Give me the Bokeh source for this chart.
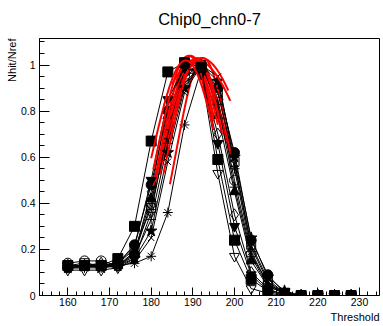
import numpy as np
from bokeh.plotting import figure
from bokeh.models import Range1d, SingleIntervalTicker, CustomJSTickFormatter, Title
from bokeh.embed import file_html
from bokeh.resources import INLINE

# Threshold scan points (DAC units)
threshold = [160, 164, 168, 172, 176, 180, 184, 188, 192, 196, 200, 204, 208, 212, 216, 220, 224, 228]

# Nhit/Nref per scan, one list per measurement
ratio_b = [0.12, 0.13, 0.13, 0.14, 0.22, 0.48, 0.80, 0.97, 1.00, 0.90, 0.62, 0.24, 0.09, 0.01, 0.00, 0.00, 0.00, 0.00]
ratio_c = [0.14, 0.15, 0.15, 0.13, 0.18, 0.40, 0.74, 0.95, 1.00, 0.85, 0.50, 0.18, 0.05, 0.01, 0.00, 0.00, 0.00, 0.00]
ratio_d = [0.12, 0.12, 0.12, 0.13, 0.14, 0.17, 0.36, 0.74, 0.98, 0.90, 0.55, 0.19, 0.05, 0.01, 0.00, 0.00, 0.00, 0.00]
ratio_e = [0.11, 0.11, 0.11, 0.12, 0.16, 0.36, 0.72, 0.96, 0.97, 0.53, 0.17, 0.03, 0.01, 0.00, 0.00, 0.00, 0.00, 0.00]
ratio_f = [0.13, 0.13, 0.13, 0.13, 0.19, 0.42, 0.78, 0.97, 0.99, 0.78, 0.45, 0.15, 0.04, 0.01, 0.00, 0.00, 0.00, 0.00]
ratio_g = [0.13, 0.14, 0.13, 0.14, 0.20, 0.38, 0.70, 0.92, 1.00, 0.88, 0.58, 0.22, 0.07, 0.01, 0.00, 0.00, 0.00, 0.00]
ratio_h = [0.12, 0.13, 0.12, 0.13, 0.16, 0.28, 0.62, 0.90, 1.00, 0.93, 0.60, 0.25, 0.08, 0.02, 0.00, 0.00, 0.00, 0.00]
ratio_i = [0.13, 0.13, 0.14, 0.13, 0.18, 0.45, 0.83, 0.99, 0.97, 0.70, 0.35, 0.10, 0.03, 0.00, 0.00, 0.00, 0.00, 0.00]
ratio_j = [0.12, 0.13, 0.13, 0.13, 0.17, 0.33, 0.66, 0.91, 1.00, 0.83, 0.47, 0.17, 0.04, 0.01, 0.00, 0.00, 0.00, 0.00]
ratio_k = [0.12, 0.12, 0.13, 0.12, 0.15, 0.25, 0.58, 0.88, 1.00, 0.95, 0.57, 0.21, 0.06, 0.01, 0.00, 0.00, 0.00, 0.00]
ratio_l = [0.13, 0.13, 0.13, 0.14, 0.21, 0.50, 0.85, 0.99, 0.96, 0.66, 0.30, 0.09, 0.02, 0.00, 0.00, 0.00, 0.00, 0.00]
ratio_a = [0.13, 0.13, 0.13, 0.16, 0.30, 0.67, 0.97, 1.01, 0.99, 0.59, 0.24, 0.07, 0.02, 0.01, 0.00, 0.00, 0.00, 0.00]

# Gaussian fit results for each scan: amplitude, mean, sigma, fit range
fit_amp   = [1.01, 1.02, 1.03, 1.02, 1.02, 1.03, 1.03, 1.04, 1.02, 1.02, 1.04, 1.02]
fit_mean  = [191.0, 190.5, 192.5, 189.5, 190.0, 191.0, 192.0, 189.5, 191.0, 191.0, 189.0, 188.3]
fit_sigma = [8.0, 7.5, 6.5, 6.5, 7.5, 7.5, 12.0, 7.2, 7.0, 13.0, 7.5, 8.0]
fit_lo    = [183, 182, 184.5, 182, 181, 183, 186, 180.5, 183, 185, 180.5, 180]
fit_hi    = [199, 197, 199, 194.5, 196, 198, 198.5, 195, 197, 199, 195, 195]

series = [ratio_b, ratio_c, ratio_d, ratio_e, ratio_f, ratio_g,
          ratio_h, ratio_i, ratio_j, ratio_k, ratio_l, ratio_a]

# marker, size, filled
styles = [
    ("circle", 10, True),
    ("circle", 10, False),
    ("asterisk", 10, False),
    ("inverted_triangle", 10, False),
    ("triangle", 10, True),
    ("square", 9, False),
    ("star", 12, True),
    ("diamond", 12, False),
    ("cross", 10, False),
    ("x", 9, False),
    ("inverted_triangle", 10, True),
    ("square", 10, True),
]

W, H = 383, 326
FONT = "Liberation Sans"

p = figure(width=W, height=H, output_backend="svg", toolbar_location=None,
           x_range=Range1d(153.2, 234.8), y_range=Range1d(0, 1.115),
           min_border_left=39, min_border_right=4, min_border_top=38, min_border_bottom=31)

p.background_fill_color = "white"
p.border_fill_color = "white"
p.outline_line_color = "black"
p.outline_line_width = 1
p.xgrid.visible = False
p.ygrid.visible = False

# main title, centred over the frame
p.title.text = "Chip0_chn0-7"
p.title.align = "center"
p.title.vertical_align = "top"
p.title.text_font = FONT
p.title.text_font_size = "16.5px"
p.title.text_font_style = "normal"
p.title.text_color = "black"
p.title.standoff = 18

p.xaxis.ticker = SingleIntervalTicker(interval=10, num_minor_ticks=5)
p.yaxis.ticker = SingleIntervalTicker(interval=0.2, num_minor_ticks=4)
p.yaxis.formatter = CustomJSTickFormatter(code="return String(Math.round(tick * 10) / 10);")

for ax in (p.xaxis, p.yaxis):
    ax.axis_line_color = "black"
    ax.major_tick_line_color = "black"
    ax.minor_tick_line_color = "black"
    ax.major_tick_out = 0
    ax.minor_tick_out = 0
    ax.major_label_text_font = FONT
    ax.major_label_text_font_size = "10.5px"
    ax.major_label_text_color = "black"
p.xaxis.major_tick_in = 8
p.xaxis.minor_tick_in = 4
p.yaxis.major_tick_in = 10
p.yaxis.minor_tick_in = 5
p.xaxis.major_label_standoff = 2
p.yaxis.major_label_standoff = 4

# axis titles at the far ends of their axes
p.add_layout(Title(text="Nhit/Nref", align="right", text_font=FONT, text_font_size="11px",
                   text_font_style="normal", text_color="black", standoff=0), "left")
p.add_layout(Title(text="Threshold", align="right", text_font=FONT, text_font_size="11px",
                   text_font_style="normal", text_color="black", standoff=0), "below")

for ys, (mk, sz, filled), a, m, s, lo, hi in zip(series, styles, fit_amp, fit_mean,
                                                 fit_sigma, fit_lo, fit_hi):
    p.line(threshold, ys, line_color="black", line_width=1)
    p.scatter(threshold, ys, marker=mk, size=sz, line_color="black", line_width=1,
              fill_color="black", fill_alpha=1.0 if filled else 0.0)
    fx = np.linspace(lo, hi, 80)
    fy = a * np.exp(-0.5 * ((fx - m) / s) ** 2)
    p.line(fx, fy, line_color="#ff0000", line_width=2)

open("out.html", "w").write(file_html(p, INLINE))
